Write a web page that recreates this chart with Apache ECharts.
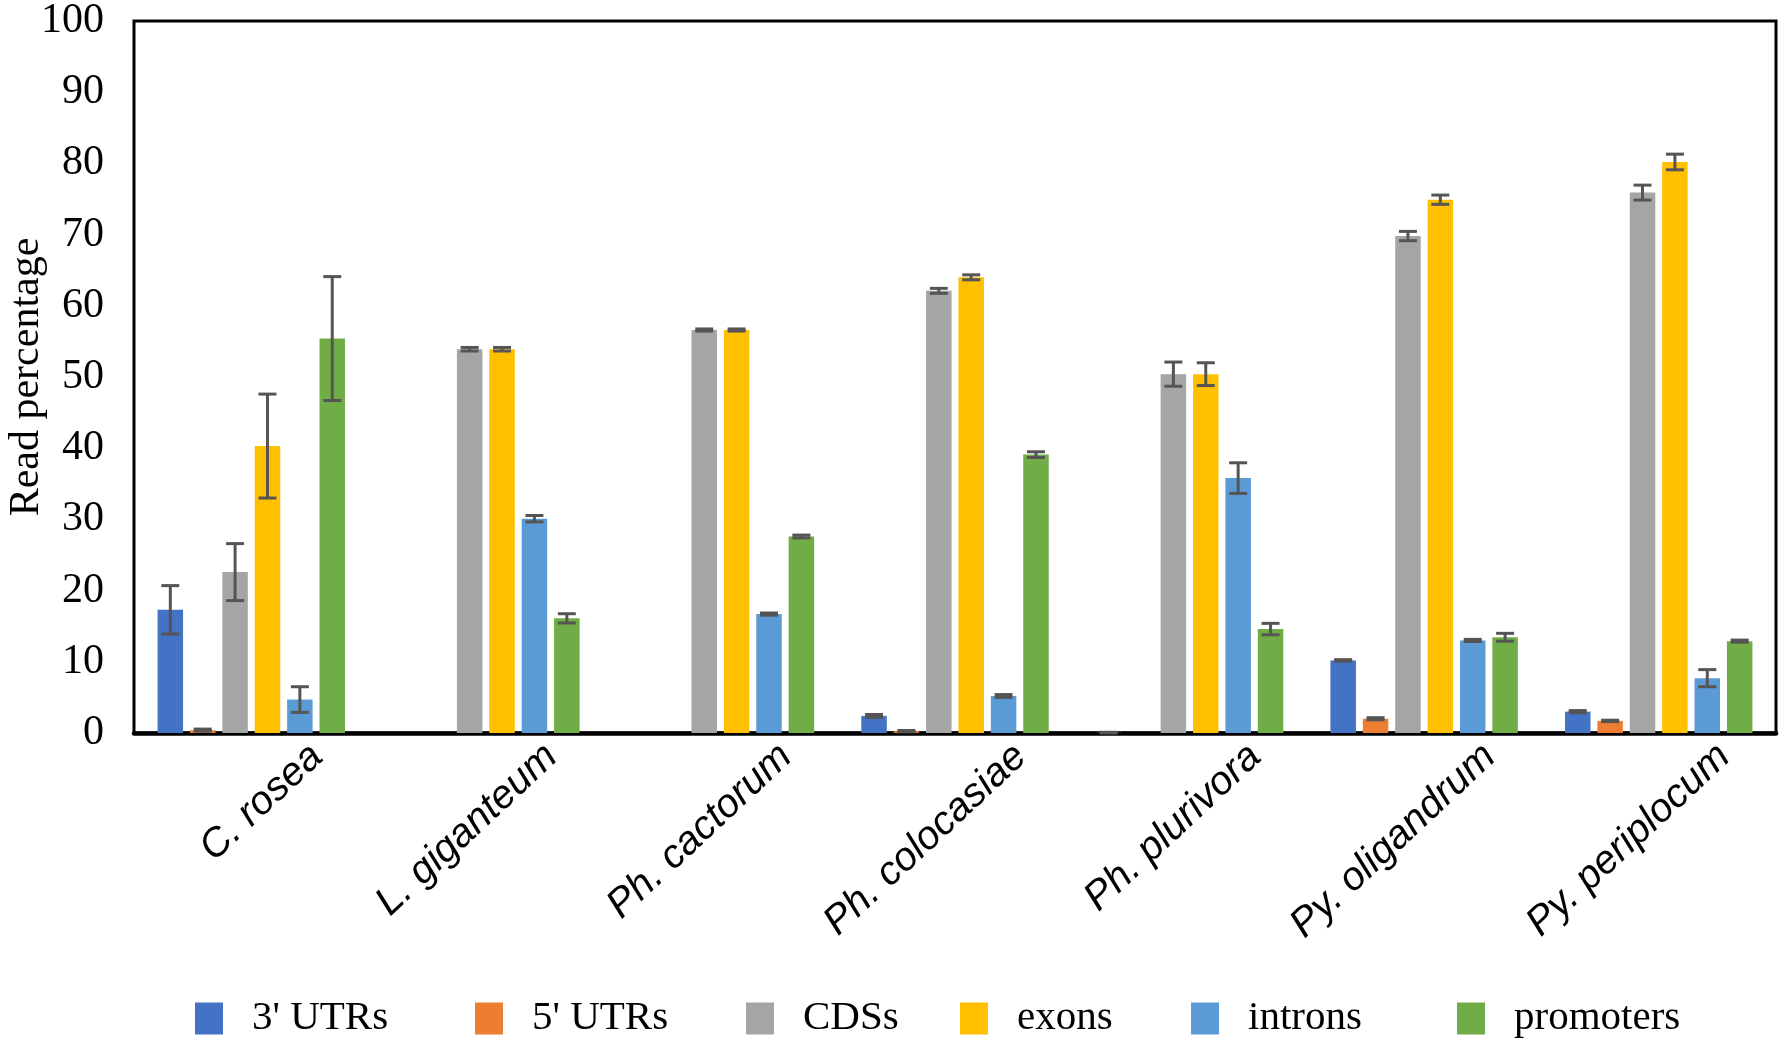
<!DOCTYPE html>
<html>
<head>
<meta charset="utf-8">
<title>Read percentage by feature</title>
<script src="https://cdn.jsdelivr.net/npm/echarts@6/dist/echarts.min.js"></script>
<style>
  html, body { margin: 0; padding: 0; background: #fff; }
  #chart { width: 1783px; height: 1045px; }
</style>
</head>
<body>
<div id="chart"></div>
<script>
// species on the x axis
const categories = ['C. rosea', 'L. giganteum', 'Ph. cactorum', 'Ph. colocasiae', 'Ph. plurivora', 'Py. oligandrum', 'Py. periplocum'];
const yTicks = [0, 10, 20, 30, 40, 50, 60, 70, 80, 90, 100];

// read percentages (mean) and error bar half-widths
const utr3 = [17.3, 0, 0, 2.4, 0.05, 10.2, 3.0];
const utr3Err = [3.4, 0, 0, 0.2, 0.05, 0.1, 0.15];
const utr5 = [0.4, 0, 0, 0.25, 0, 2.0, 1.7];
const utr5Err = [0.15, 0, 0, 0.1, 0, 0.15, 0.1];
const cds = [22.6, 53.9, 56.6, 62.1, 50.4, 69.8, 75.9];
const cdsErr = [4.0, 0.25, 0.15, 0.35, 1.7, 0.65, 1.05];
const exons = [40.3, 53.9, 56.6, 64.0, 50.4, 74.9, 80.2];
const exonsErr = [7.3, 0.25, 0.15, 0.35, 1.6, 0.65, 1.1];
const introns = [4.7, 30.1, 16.7, 5.2, 35.8, 13.0, 7.7];
const intronsErr = [1.8, 0.45, 0.15, 0.2, 2.15, 0.15, 1.2];
const promoters = [55.4, 16.1, 27.6, 39.1, 14.6, 13.45, 12.9];
const promotersErr = [8.7, 0.65, 0.2, 0.4, 0.8, 0.55, 0.15];

const seriesNames = ["3' UTRs", "5' UTRs", 'CDSs', 'exons', 'introns', 'promoters'];
const seriesValues = [utr3, utr5, cds, exons, introns, promoters];
const seriesErrors = [utr3Err, utr5Err, cdsErr, exonsErr, intronsErr, promotersErr];
const colors = ['#4472C4', '#ED7D31', '#A5A5A5', '#FFC000', '#5B9BD5', '#70AD47'];

const BAR_W = 25.5;
const BAR_GAP = 0.27; // fraction of bar width
const LABEL_SHIFT = 0.28; // labels sit a bit right of the category centre
const legendLeft = [190, 470, 741, 955, 1186, 1452];

const chart = echarts.init(document.getElementById('chart'), null, { renderer: 'canvas' });

const barSeries = seriesNames.map((name, i) => ({
  name: name,
  type: 'bar',
  xAxisIndex: 0,
  barWidth: BAR_W,
  barGap: (BAR_GAP * 100) + '%',
  itemStyle: { color: colors[i] },
  data: seriesValues[i],
  z: 2
}));

// error bars, one custom series per feature so they line up with the bars
const errSeries = seriesNames.map((name, i) => {
  const step = BAR_W * (1 + BAR_GAP);
  const offset = (i - (seriesNames.length - 1) / 2) * step;
  const data = [];
  seriesValues[i].forEach((v, k) => {
    const e = seriesErrors[i][k];
    if (e > 0) data.push([k, Math.max(0, v - e), v + e]);
  });
  return {
    name: name + ' err',
    type: 'custom',
    xAxisIndex: 0,
    z: 5,
    encode: { x: 0, y: [1, 2] },
    data: data,
    renderItem: function (params, api) {
      const top = api.coord([api.value(0), api.value(2)]);
      const bot = api.coord([api.value(0), api.value(1)]);
      const cx = top[0] + offset;
      const cap = 9;
      const style = { stroke: '#555555', lineWidth: 3 };
      return {
        type: 'group',
        children: [
          { type: 'line', shape: { x1: cx, y1: top[1], x2: cx, y2: bot[1] }, style: style },
          { type: 'line', shape: { x1: cx - cap, y1: top[1], x2: cx + cap, y2: top[1] }, style: style },
          { type: 'line', shape: { x1: cx - cap, y1: bot[1], x2: cx + cap, y2: bot[1] }, style: style }
        ]
      };
    }
  };
});

const legends = seriesNames.map((name, i) => ({
  data: [{ name: name, icon: 'rect' }],
  left: legendLeft[i],
  top: 993,
  itemWidth: 28,
  itemHeight: 32,
  selectedMode: false,
  textStyle: {
    fontFamily: 'Liberation Serif',
    fontSize: 41,
    color: '#000',
    padding: [0, 0, 0, 24]
  }
}));

const option = {
  backgroundColor: '#fff',
  animation: false,
  legend: legends,
  grid: {
    left: 134,
    right: 7,
    top: 21,
    bottom: 312,
    show: true,
    borderColor: '#000',
    borderWidth: 3,
    containLabel: false,
    outerBoundsMode: 'none'
  },
  xAxis: [
    {
      type: 'category',
      data: categories,
      axisLine: { show: true, lineStyle: { color: '#000', width: 4.5 } },
      axisTick: { show: false },
      axisLabel: { show: false },
      splitLine: { show: false }
    },
    {
      type: 'value',
      position: 'bottom',
      min: -0.5 - LABEL_SHIFT,
      max: categories.length - 0.5 - LABEL_SHIFT,
      axisLine: { show: false },
      axisTick: { show: false },
      splitLine: { show: false },
      axisLabel: {
        customValues: categories.map((c, k) => k),
        formatter: function (v) { return categories[Math.round(v)]; },
        rotate: 43,
        margin: 18,
        fontFamily: 'Liberation Sans',
        fontStyle: 'italic',
        fontSize: 40,
        color: '#000'
      }
    }
  ],
  yAxis: {
    type: 'value',
    min: yTicks[0],
    max: yTicks[yTicks.length - 1],
    interval: yTicks[1] - yTicks[0],
    name: 'Read percentage',
    nameLocation: 'middle',
    nameRotate: 90,
    nameGap: 86,
    nameMoveOverlap: false,
    nameTextStyle: { fontFamily: 'Liberation Serif', fontSize: 42, color: '#000' },
    axisLine: { show: false },
    axisTick: { show: false },
    splitLine: { show: false },
    axisLabel: {
      margin: 30,
      fontFamily: 'Liberation Serif',
      fontSize: 42,
      color: '#000'
    }
  },
  series: barSeries.concat(errSeries)
};

chart.setOption(option);
</script>
</body>
</html>
